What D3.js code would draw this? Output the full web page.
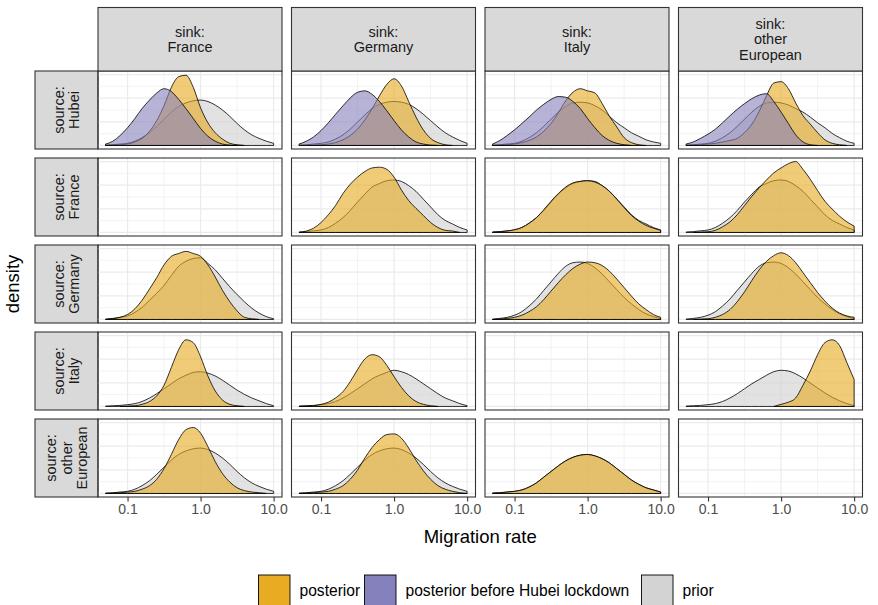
<!DOCTYPE html>
<html>
<head>
<meta charset="utf-8">
<script src="https://cdn.jsdelivr.net/npm/d3@7"></script>
<style>
body{margin:0;background:#fff;}
text{font-family:"Liberation Sans",Arial,sans-serif;}
</style>
</head>
<body>
<svg id="chart" width="878" height="605"></svg>
<script>
try{

/*========================================
	Data
========================================*/
var sources = ["Hubei","France","Germany","Italy","other European"];
var sinks = ["France","Germany","Italy","other European"];
var sourceLabels = [["source:","Hubei"],["source:","France"],["source:","Germany"],["source:","Italy"],["source:","other","European"]];
var sinkLabels = [["sink:","France"],["sink:","Germany"],["sink:","Italy"],["sink:","other","European"]];
var tickValues = [0.1, 1, 10];
var tickLabels = ["0.1","1.0","10.0"];
var minorTicks = [0.316, 3.16];

// migration rates where the curves were read
var rateGrid = [0.050,0.063,0.079,0.100,0.126,0.158,0.200,0.251,0.316,0.398,0.501,0.631,0.794,1.000,1.259,1.585,1.995,2.512,3.162,3.981,5.012,6.310,7.943,10.0];

// density heights, % of the row maximum; one list per sink (null = empty panel)
var prior_Hubei = [
	[0.5,1,2,3,6,11,18,27,37,47,55,60,63,64,62,57,50,41,31,22,15,10,6,3],
	[0.5,1,2,3,5,9,15,23,33,43,52,58,61,62,61,58,52,44,35,26,18,12,7,3],
	[0.5,1,2,3,6,11,18,27,37,47,55,60,61,60,56,50,41,32,25,18,13,8,5,3],
	[0.5,1,2,3,6,11,18,27,37,47,55,60,61,60,57,52,47,40,32,25,17,11,6,3]
];
var post_Hubei = [
	[0,0.5,1,2,5,10,20,35,56,82,97,99,82,53,32,18,9,3,1,0,0,0,0,0],
	[0,0,0.5,1,2,4,8,14,23,36,52,70,86,94,84,62,40,22,10,4,1,0,0,0],
	[0,0.5,1,2,4,7,12,20,31,46,63,75,80,77,74,59,41,26,11,4,1,0,0,0],
	[0,0.5,1,2,3,5,7,10,18,30,48,70,88,90,80,60,42,30,18,8,3,1,0,0]
];
var pre_Hubei = [
	[2,6,14,25,38,52,64,74,80,76,65,52,38,24,13,6,2,0.5,0,0,0,0,0,0],
	[2,6,12,21,32,44,56,67,75,77,72,62,49,35,22,12,5,2,0.5,0,0,0,0,0],
	[2,7,14,22,31,40,50,58,65,69,68,62,52,38,25,14,7,3,1,0,0,0,0,0],
	[2,5,10,16,23,32,42,51,59,66,71,73,62,47,31,15,5,1,0,0,0,0,0,0]
];
var prior_France = [
	null,
	[0.6,1.2,2.3,3.5,7,13,21,31,43,54,64,69,73,74,72,66,58,47,36,25,17,12,7,3.5],
	[0.6,1.2,2.3,3.5,7,13,21,31,43,54,63,69,72,73,72,66,58,47,36,25,17,12,7,3.5],
	[0.6,1.2,2.3,3.5,7,13,21,31,43,54,64,69,73,74,72,66,58,47,36,25,17,12,7,3.5]
];
var post_France = [
	null,
	[0,2,6,14,25,38,55,68,78,86,91,92,89,78,60,45,34,24,14,7,3,2,0,0],
	[0.5,1,2,4,7,13,21,32,44,55,64,70,72,73,71,66,58,47,35,24,16,10,6,3],
	[0,0,0.5,1,3,8,15,25,38,51,63,74,84,91,97,100,89,75,59,44,33,23,15,9]
];
var prior_Germany = [
	[0.5,1.5,3,5,10,17,27,37,48,62,75,82,86,87,79,70,58,46,35,25,16,9,4,1],
	null,
	[0.5,1.5,3,6,11,19,29,41,53,65,75,80,81,79,73,64,53,42,31,22,14,8,4,1],
	[0.5,1.5,3,6,11,19,29,41,53,65,75,80,81,79,73,64,53,42,31,22,14,8,4,1]
];
var post_Germany = [
	[0,1,3,7,15,27,43,59,77,89,93,96,93,89,77,60,41,25,12,3,1,0,0,0],
	null,
	[0,0.5,1.5,3,6,11,18,28,40,52,63,72,78,81,80,76,68,57,45,33,22,14,7,3],
	[0,0,0.5,1,3,7,14,25,39,55,70,82,90,94,90,80,66,52,38,26,16,9,5,3]
];
var prior_Italy = [
	[0.5,1,1.5,2.5,4,7,12,18,25,32,39,44,48,49,47,43,37,30,23,17,12,8,4,1],
	[0.5,1,1.5,2.5,4,7,12,18,25,32,39,44,48,51,49,45,39,32,25,18,12,8,4,1],
	null,
	[0.5,1,1.5,2.5,4,7,12,18,25,32,38,44,49,51,50,46,40,33,26,19,13,8,4,1]
];
var post_Italy = [
	[0,0,0,0.5,1,3,7,15,30,55,80,94,90,70,43,22,9,3,1,0,0,0,0,0],
	[0,0.5,1,3,6,12,21,35,52,67,73,70,58,42,27,15,7,3,1,0,0,0,0,0],
	null,
	[0,0,0,0,0,0,0,0,0,0,0,0,0,3,6,12,30,50,73,90,94,86,62,38]
];
var prior_other = [
	[0.5,1,2,3,6,11,18,27,37,47,55,60,63,64,62,57,50,41,31,22,15,10,6,3],
	[0.5,1,2,3,6,11,18,27,37,47,55,60,63,64,62,57,50,41,31,22,15,10,6,3],
	[0.5,1,2,3,5,9,15,23,31,39,46,51,54,55,53,49,43,35,27,19,13,8,5,2],
	null
];
var post_other = [
	[0,0.5,1,2,3,6,11,20,35,55,76,90,93,85,66,45,28,16,8,4,2,1,0,0],
	[0,0.5,1,2,3,6,11,20,33,50,65,76,83,84,78,64,47,32,20,11,6,3,1,0],
	[0.5,1,2,3,5,9,15,23,31,39,46,51,54,55,53,49,43,35,27,19,13,8,5,2],
	null
];

// horizontal grid positions per row, same % units
var rowMajor = [[0,33.3,66.7,100],[0,33.3,66.7,100],[0,33.3,66.7,100],[0,33.3,66.7,100],[0,33.3,66.7,100]];
var rowMinor = [[16.7,50,83.3],[16.7,50,83.3],[16.7,50,83.3],[16.7,50,83.3],[16.7,50,83.3]];

var legendLabels = ["posterior","posterior before Hubei lockdown","prior"];

/*========================================
	Layout
========================================*/
var svg = d3.select("#chart");
var panelLeft = 98, panelW = 184, colGap = 9.5;
var panelTop = 71, panelH = 78, rowGap = 9;
var stripTop = 7.5, rowStripLeft = 35;

var colors = {post:"#E8AA1E", pre:"#8581BD", prior:"#CFCFCF"};

var priorRows = [prior_Hubei, prior_France, prior_Germany, prior_Italy, prior_other];
var postRows = [post_Hubei, post_France, post_Germany, post_Italy, post_other];
var preRows = [pre_Hubei, null, null, null, null];

var x = d3.scaleLog().domain([0.0394, 13.02]).range([0, panelW]);

var trimmed = function(vals){
	var pts = rateGrid.map(function(r,i){return [r, vals[i]];});
	var first = 0, last = pts.length-1;
	while(first < last && pts[first][1] <= 0) first++;
	while(last > first && pts[last][1] <= 0) last--;
	return pts.slice(Math.max(0,first-1), Math.min(pts.length,last+2));
};

sources.forEach(function(src, r){
	var top = panelTop + r*(panelH+rowGap);
	var y = d3.scaleLinear().domain([-5,105]).range([top+panelH, top]);

	// row strip
	var rs = svg.append("g");
	rs.append("rect")
		.attr("x", rowStripLeft).attr("y", top)
		.attr("width", panelLeft-rowStripLeft).attr("height", panelH)
		.attr("fill","#D9D9D9").attr("stroke","#333").attr("stroke-width",1.1);
	var lines = sourceLabels[r];
	var cx = (rowStripLeft+panelLeft)/2, cy = top+panelH/2;
	var rt = rs.append("text")
		.attr("transform","translate("+cx+","+cy+") rotate(-90)")
		.attr("text-anchor","middle")
		.attr("font-size",14.5).attr("fill","#1A1A1A");
	lines.forEach(function(l,i){
		rt.append("tspan").attr("x",0)
			.attr("y", (i-(lines.length-1)/2)*15.5 + 5)
			.text(l);
	});

	sinks.forEach(function(snk, c){
		var left = panelLeft + c*(panelW+colGap);
		var g = svg.append("g").attr("transform","translate("+left+",0)");

		// grid
		rowMinor[r].forEach(function(v){
			g.append("line").attr("x1",0).attr("x2",panelW)
				.attr("y1",y(v)).attr("y2",y(v))
				.attr("stroke","#EBEBEB").attr("stroke-width",0.6);
		});
		minorTicks.forEach(function(v){
			g.append("line").attr("x1",x(v)).attr("x2",x(v))
				.attr("y1",top).attr("y2",top+panelH)
				.attr("stroke","#EBEBEB").attr("stroke-width",0.6);
		});
		rowMajor[r].forEach(function(v){
			if(y(v) < top) return;
			g.append("line").attr("x1",0).attr("x2",panelW)
				.attr("y1",y(v)).attr("y2",y(v))
				.attr("stroke","#EBEBEB").attr("stroke-width",1.2);
		});
		tickValues.forEach(function(v){
			g.append("line").attr("x1",x(v)).attr("x2",x(v))
				.attr("y1",top).attr("y2",top+panelH)
				.attr("stroke","#EBEBEB").attr("stroke-width",1.2);
		});

		var area = d3.area()
			.x(function(d){return x(d[0]);})
			.y0(y(0))
			.y1(function(d){return y(d[1]);})
			.curve(d3.curveMonotoneX);

		var layers = [
			[priorRows[r][c], colors.prior],
			[postRows[r][c], colors.post],
			[preRows[r] ? preRows[r][c] : null, colors.pre]
		];
		layers.forEach(function(L){
			if(!L[0]) return;
			g.append("path")
				.attr("d", area(trimmed(L[0])))
				.attr("fill", L[1]).attr("fill-opacity",0.6)
				.attr("stroke","#000").attr("stroke-width",0.8)
				.attr("stroke-linejoin","round");
		});

		// border
		g.append("rect").attr("x",0).attr("y",top)
			.attr("width",panelW).attr("height",panelH)
			.attr("fill","none").attr("stroke","#333").attr("stroke-width",1.1);

		// column strip
		if(r === 0){
			g.append("rect").attr("x",0).attr("y",stripTop)
				.attr("width",panelW).attr("height",panelTop-stripTop)
				.attr("fill","#D9D9D9").attr("stroke","#333").attr("stroke-width",1.1);
			var sl = sinkLabels[c];
			var mid = (stripTop+panelTop)/2;
			var st = g.append("text").attr("text-anchor","middle")
				.attr("font-size",14.5).attr("fill","#1A1A1A");
			sl.forEach(function(l,i){
				st.append("tspan").attr("x",panelW/2)
					.attr("y", mid + (i-(sl.length-1)/2)*15.5 + 5)
					.text(l);
			});
		}

		// x axis on the last row
		if(r === sources.length-1){
			var ax = g.append("g").attr("transform","translate(0,"+(top+panelH)+")")
				.call(d3.axisBottom(x).tickValues(tickValues)
					.tickFormat(function(d,i){return tickLabels[i];})
					.tickSize(4.5).tickPadding(3));
			ax.select(".domain").remove();
			ax.selectAll(".tick line").attr("stroke","#333").attr("stroke-width",1.1);
			ax.selectAll(".tick text").attr("fill","#4D4D4D")
				.attr("font-size",14).attr("font-family","Liberation Sans, Arial, sans-serif");
		}
	});
});

// axis titles
svg.append("text").attr("x", (panelLeft + 4*panelW + 3*colGap + panelLeft)/2).attr("y",543)
	.attr("text-anchor","middle").attr("font-size",18.5).attr("fill","#000")
	.text("Migration rate");
svg.append("text").attr("transform","translate(19,284) rotate(-90)")
	.attr("text-anchor","middle").attr("font-size",18.5).attr("fill","#000")
	.text("density");

/*========================================
	Legend
========================================*/
var legendKeys = [
	{x:258.5, fill:"#E8AB22", label:legendLabels[0]},
	{x:364.5, fill:"#8581BD", label:legendLabels[1]},
	{x:641.5, fill:"#D3D3D3", label:legendLabels[2]}
];
legendKeys.forEach(function(k){
	svg.append("rect").attr("x",k.x).attr("y",575)
		.attr("width",31.5).attr("height",32)
		.attr("fill",k.fill).attr("stroke","#000").attr("stroke-width",0.9);
	svg.append("text").attr("x",k.x+41).attr("y",596)
		.attr("font-size",15.6).attr("fill","#000").text(k.label);
});

} catch (e) {
	console.log(e);
}
</script>
</body>
</html>
